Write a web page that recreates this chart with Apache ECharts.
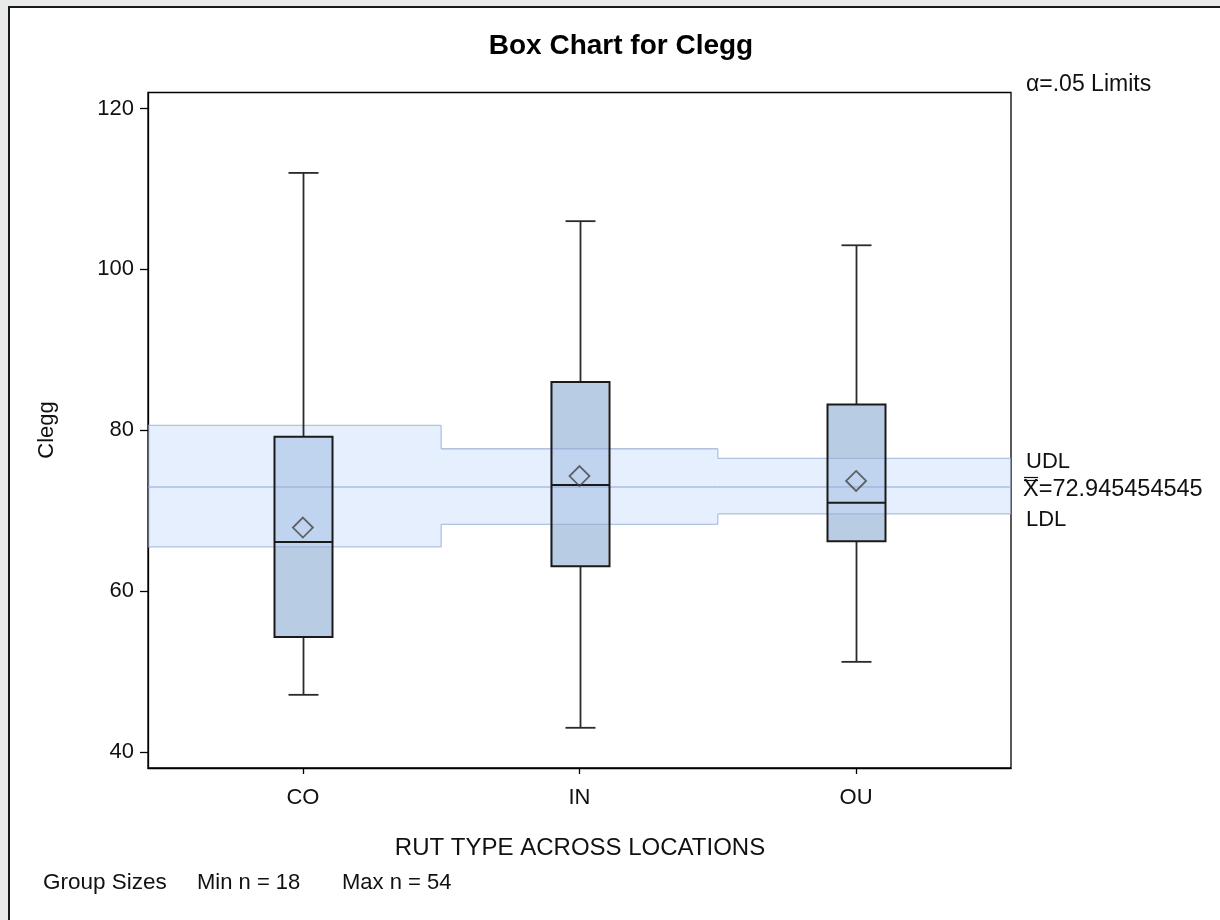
<!DOCTYPE html>
<html>
<head>
<meta charset="utf-8">
<title>Box Chart for Clegg</title>
<script src="https://cdn.jsdelivr.net/npm/echarts@6/dist/echarts.min.js"></script>
<style>
  html, body { margin: 0; padding: 0; width: 1220px; height: 920px; overflow: hidden; background: #e8ebea; }
  #frame { position: absolute; left: 8px; top: 6px; width: 1230px; height: 930px; background: #fff;
           border-left: 2px solid #1a1a1a; border-top: 2px solid #1a1a1a; box-sizing: border-box; }
  #chart { position: absolute; left: 0; top: 0; width: 1220px; height: 920px; }
</style>
</head>
<body>
<div id="frame"></div>
<div id="chart"></div>
<script>
// Groups on the horizontal axis
const categories = ['CO', 'IN', 'OU'];

// Box statistics per group
const whiskerLow  = [47.1, 43.0, 51.2];
const quartile1   = [54.3, 63.1, 66.2];
const medians     = [66.1, 73.2, 71.0];
const quartile3   = [79.2, 86.0, 83.2];
const whiskerHigh = [112.0, 106.0, 103.0];
const means       = [67.9, 74.3, 73.7];

// Decision limits (alpha = .05) per group and the overall mean
const upperLimits = [80.6, 77.7, 76.5];
const lowerLimits = [65.5, 68.3, 69.6];
const centerLine = 72.945454545;
const alphaLevel = '.05';

// Axis ticks
const yTicks = [40, 60, 80, 100, 120];

// Group size summary
const minGroupSize = 18;
const maxGroupSize = 54;

const FONT = "'Liberation Sans', Arial, Helvetica, sans-serif";
const TEXT_COLOR = '#111';
const X_MIN = 0.44, X_MAX = 3.56;
const BOX_HALF = 29;     // half box width, px
const CAP_HALF = 15;     // half whisker cap width, px

const xPos = categories.map((c, i) => i + 1);
const boxRows = categories.map((c, i) =>
  [xPos[i], whiskerLow[i], quartile1[i], medians[i], quartile3[i], whiskerHigh[i]]);
const bandRows = categories.map((c, i) => [xPos[i], upperLimits[i], lowerLimits[i]]);

// Filled box body
function renderBoxFill(params, api) {
  const x = api.value(0);
  const top = api.coord([x, api.value(4)]);
  const bot = api.coord([x, api.value(2)]);
  return {
    type: 'rect',
    shape: { x: top[0] - BOX_HALF, y: top[1], width: BOX_HALF * 2, height: bot[1] - top[1] },
    style: { fill: '#b8cce4', stroke: null }
  };
}

// Step-shaped decision limit band with the center line
function renderBand(params, api) {
  const i = params.dataIndex;
  const n = categories.length;
  const x = api.value(0);
  const left = i === 0 ? X_MIN : x - 0.5;
  const right = i === n - 1 ? X_MAX : x + 0.5;
  const tl = api.coord([left, api.value(1)]);
  const br = api.coord([right, api.value(2)]);
  const cl = api.coord([left, centerLine]);
  const cr = api.coord([right, centerLine]);
  const lineStyle = { stroke: 'rgba(150,172,210,0.7)', lineWidth: 1.3, fill: null };
  const children = [
    { type: 'rect', shape: { x: tl[0], y: tl[1], width: br[0] - tl[0], height: br[1] - tl[1] },
      style: { fill: 'rgba(200,222,250,0.48)' } },
    { type: 'line', shape: { x1: tl[0], y1: tl[1], x2: br[0], y2: tl[1] }, style: lineStyle },
    { type: 'line', shape: { x1: tl[0], y1: br[1], x2: br[0], y2: br[1] }, style: lineStyle },
    { type: 'line', shape: { x1: cl[0], y1: cl[1], x2: cr[0], y2: cr[1] }, style: lineStyle }
  ];
  if (i < n - 1) {
    const uNext = api.coord([right, upperLimits[i + 1]]);
    const lNext = api.coord([right, lowerLimits[i + 1]]);
    children.push({ type: 'line', shape: { x1: br[0], y1: tl[1], x2: br[0], y2: uNext[1] }, style: lineStyle });
    children.push({ type: 'line', shape: { x1: br[0], y1: br[1], x2: br[0], y2: lNext[1] }, style: lineStyle });
  }
  return { type: 'group', children };
}

// Whiskers, caps, box outline and median
function renderBoxOutline(params, api) {
  const x = api.value(0);
  const lo = api.coord([x, api.value(1)]);
  const q1 = api.coord([x, api.value(2)]);
  const md = api.coord([x, api.value(3)]);
  const q3 = api.coord([x, api.value(4)]);
  const hi = api.coord([x, api.value(5)]);
  const cx = Math.round(lo[0]) + 0.5;
  const whisk = { stroke: '#2a2a2a', lineWidth: 1.8 };
  const edge = { stroke: '#1a1a1a', lineWidth: 2, fill: null };
  return {
    type: 'group',
    children: [
      { type: 'line', shape: { x1: cx, y1: hi[1], x2: cx, y2: q3[1] }, style: whisk },
      { type: 'line', shape: { x1: cx, y1: q1[1], x2: cx, y2: lo[1] }, style: whisk },
      { type: 'line', shape: { x1: cx - CAP_HALF, y1: hi[1], x2: cx + CAP_HALF, y2: hi[1] }, style: whisk },
      { type: 'line', shape: { x1: cx - CAP_HALF, y1: lo[1], x2: cx + CAP_HALF, y2: lo[1] }, style: whisk },
      { type: 'rect', shape: { x: cx - BOX_HALF, y: q3[1], width: BOX_HALF * 2, height: q1[1] - q3[1] }, style: edge },
      { type: 'line', shape: { x1: cx - BOX_HALF, y1: md[1], x2: cx + BOX_HALF, y2: md[1] }, style: edge }
    ]
  };
}

const chart = echarts.init(document.getElementById('chart'), null, { renderer: 'canvas' });

const textStyleBase = { fontFamily: FONT, fontSize: 22, fill: TEXT_COLOR };
function label(text, x, y, align, extra) {
  return { type: 'text', x, y, style: Object.assign({ text, textAlign: align, textVerticalAlign: 'middle' }, textStyleBase, extra || {}) };
}

const option = {
  backgroundColor: 'transparent',
  animation: false,
  grid: { left: 148, right: 209, top: 92.5, bottom: 152, show: true, borderColor: '#000', borderWidth: 1.3, backgroundColor: 'transparent' },
  xAxis: {
    type: 'value', min: X_MIN, max: X_MAX,
    splitLine: { show: false },
    axisLine: { show: true, onZero: false, lineStyle: { color: '#000', width: 1.3 } },
    axisTick: { show: true, customValues: xPos, length: 6, lineStyle: { color: '#000', width: 1.3 } },
    axisLabel: {
      customValues: xPos, formatter: v => categories[Math.round(v) - 1],
      fontFamily: FONT, fontSize: 22, color: TEXT_COLOR, margin: 19
    }
  },
  yAxis: {
    type: 'value', min: 38, max: 122,
    splitLine: { show: false },
    axisLine: { show: true, onZero: false, lineStyle: { color: '#000', width: 1.3 } },
    axisTick: { show: true, customValues: yTicks, length: 8, lineStyle: { color: '#000', width: 1.3 } },
    axisLabel: { customValues: yTicks, fontFamily: FONT, fontSize: 22, color: TEXT_COLOR, margin: 14 }
  },
  series: [
    { type: 'custom', name: 'box fill', data: boxRows, renderItem: renderBoxFill, z: 1,
      encode: { x: 0, y: [1, 5] }, silent: true },
    { type: 'custom', name: 'limits', data: bandRows, renderItem: renderBand, z: 2,
      encode: { x: 0, y: [1, 2] }, silent: true },
    { type: 'custom', name: 'box', data: boxRows, renderItem: renderBoxOutline, z: 3,
      encode: { x: 0, y: [1, 5] }, silent: true },
    { type: 'scatter', name: 'mean', data: means.map((m, i) => [xPos[i], m]), z: 4,
      symbol: 'diamond', symbolSize: 20,
      itemStyle: { color: 'rgba(0,0,0,0)', borderColor: '#444', borderWidth: 1.8 }, silent: true }
  ],
  graphic: [
    label('Box Chart for Clegg', 621, 46, 'center', { fontSize: 28, fontWeight: 'bold', fill: '#000' }),
    { type: 'text', x: 47, y: 430, rotation: Math.PI / 2, style: Object.assign({ text: 'Clegg', textAlign: 'center', textVerticalAlign: 'middle' }, textStyleBase) },
    label('RUT TYPE ACROSS LOCATIONS', 580, 848, 'center', { fontSize: 24 }),
    label('α=' + alphaLevel + ' Limits', 1026, 85, 'left', { fontSize: 23 }),
    label('UDL', 1026, 462, 'left'),
    label('X=' + String(centerLine), 1023, 490, 'left', { fontSize: 23.5 }),
    { type: 'line', shape: { x1: 1024, y1: 477.5, x2: 1038, y2: 477.5 }, style: { stroke: TEXT_COLOR, lineWidth: 1.2 } },
    { type: 'line', shape: { x1: 1024, y1: 480.5, x2: 1038, y2: 480.5 }, style: { stroke: TEXT_COLOR, lineWidth: 1.2 } },
    label('LDL', 1026, 520, 'left'),
    label('Group Sizes', 43, 883, 'left', { fontSize: 22.5 }),
    label('Min n = ' + minGroupSize, 197, 883, 'left'),
    label('Max n = ' + maxGroupSize, 342, 883, 'left')
  ]
};

chart.setOption(option);
</script>
</body>
</html>
